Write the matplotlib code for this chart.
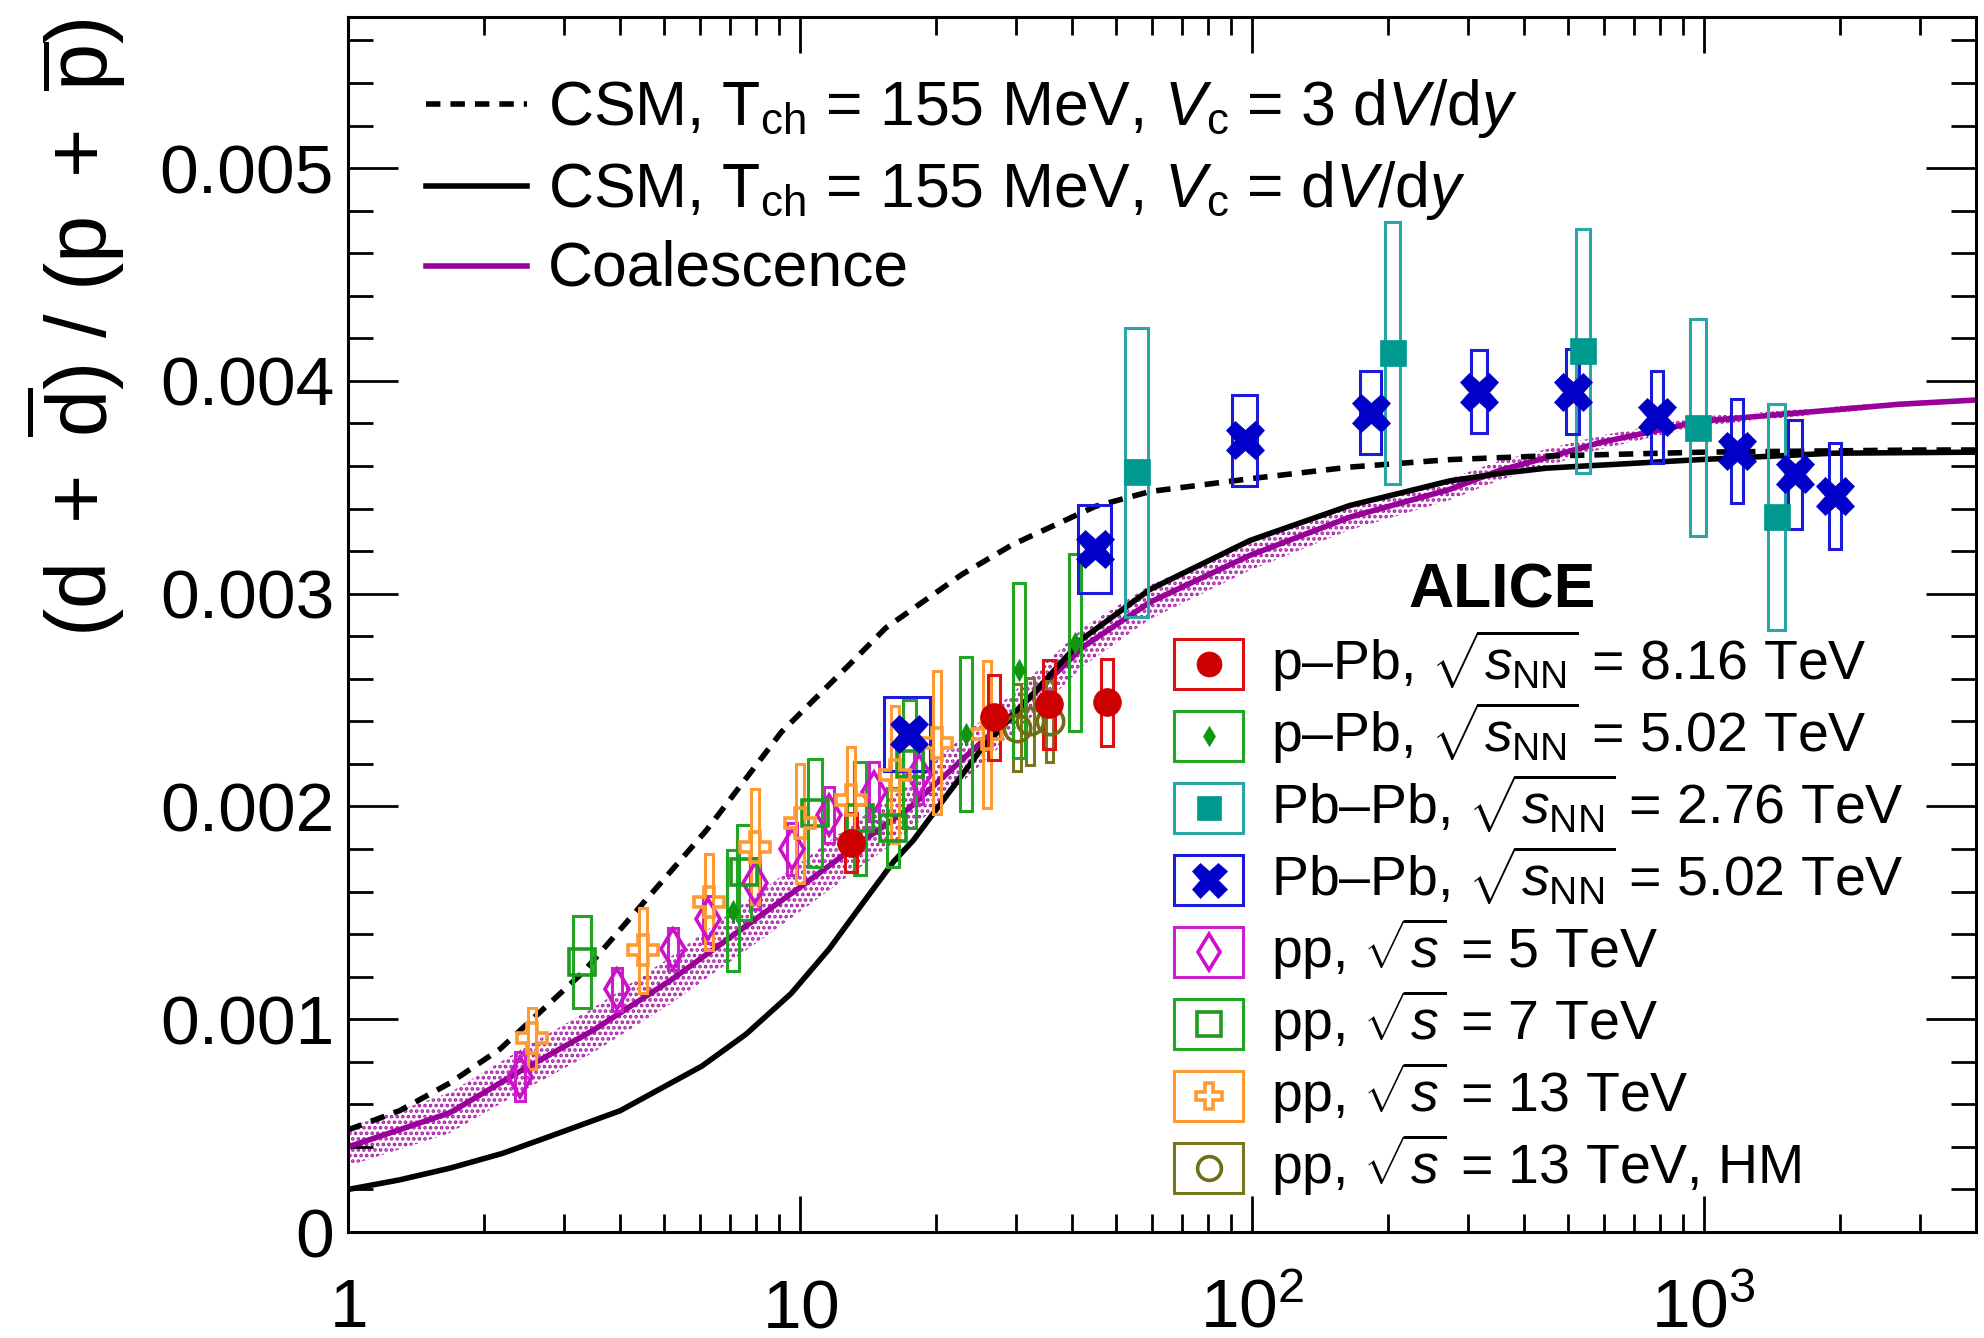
import matplotlib
matplotlib.use("Agg")
import matplotlib.pyplot as plt
from matplotlib.patches import Rectangle
from matplotlib.ticker import FixedLocator, LogLocator, MultipleLocator, NullFormatter
from matplotlib.transforms import blended_transform_factory

plt.rcParams['font.family'] = ['Liberation Sans', 'DejaVu Sans']
plt.rcParams['mathtext.fontset'] = 'custom'
plt.rcParams['mathtext.rm'] = 'Liberation Sans'
plt.rcParams['mathtext.it'] = 'Liberation Sans:italic'
plt.rcParams['mathtext.bf'] = 'Liberation Sans:bold'
plt.rcParams['mathtext.sf'] = 'Liberation Sans'
plt.rcParams['hatch.linewidth'] = 1.8
plt.rcParams['hatch.color'] = '#a41ca4'

SCALE = 1e-3  # ratios below are given in units of 10^-3

# ---- model curves ----
csm3_x = [1.0, 1.3, 1.68, 2.17, 3.31, 4.5, 6.22, 9.1, 12.7, 15.5, 22.8, 29.5, 45, 59.5,
          99, 165, 274, 418, 1000, 2960, 4000]
csm3_y = [0.48, 0.57, 0.70, 0.86, 1.22, 1.546, 1.89, 2.35, 2.655, 2.84, 3.09, 3.23, 3.41, 3.48,
          3.54, 3.595, 3.63, 3.645, 3.665, 3.675, 3.675]

csm1_x = [1.0, 1.3, 1.68, 2.2, 2.8, 4.0, 6.07, 7.6, 9.55, 11.6, 13.6, 16.1, 17.8, 25.0, 32.8,
          42.3, 59.5, 99, 165, 274, 354, 450, 980, 1930, 4000]
csm1_y = [0.20, 0.245, 0.30, 0.37, 0.45, 0.57, 0.78, 0.93, 1.12, 1.33, 1.53, 1.74, 1.84, 2.26, 2.53,
          2.79, 3.02, 3.25, 3.415, 3.53, 3.565, 3.59, 3.63, 3.66, 3.665]

coal_x = [1, 1.68, 2.4, 3.5, 5.15, 7.5, 10, 13.6, 17.4, 23.4, 27.7, 35, 42.3, 59.5, 76.7,
          99, 165, 274, 354, 450, 589, 980, 1630, 2700, 4000]
coal_y = [0.40, 0.56, 0.755, 0.95, 1.18, 1.43, 1.62, 1.83, 1.99, 2.24, 2.38, 2.58, 2.75, 2.96, 3.07,
          3.18, 3.36, 3.49, 3.58, 3.64, 3.71, 3.81, 3.85, 3.89, 3.91]
coal_err = [0.09, 0.095, 0.10, 0.105, 0.11, 0.115, 0.115, 0.115, 0.11, 0.105, 0.10, 0.095, 0.09,
            0.08, 0.075, 0.07, 0.06, 0.05, 0.045, 0.04, 0.032, 0.022, 0.016, 0.012, 0.01]

# ---- measurements: x = <dNch/deta>, y = (d+dbar)/(p+pbar), sys = syst. error,
#      xrel = relative x uncertainty ----
ppb816_x = [13.0, 26.9, 35.6, 47.8]
ppb816_y = [1.83, 2.42, 2.48, 2.49]
ppb816_sys = [0.14, 0.20, 0.21, 0.205]
ppb816_xrel = [0.03, 0.03, 0.03, 0.03]

ppb502_x = [7.11, 23.3, 30.5, 40.6]
ppb502_y = [1.51, 2.34, 2.64, 2.77]
ppb502_sys = [0.285, 0.36, 0.41, 0.415]
ppb502_xrel = [0.03, 0.03, 0.03, 0.03]

pbpb276_x = [55.6, 205, 540, 970, 1450]
pbpb276_y = [3.57, 4.13, 4.14, 3.78, 3.36]
pbpb276_sys = [0.68, 0.615, 0.575, 0.51, 0.53]
pbpb276_xrel = [0.06, 0.039, 0.036, 0.042, 0.042]

pbpb502_x = [17.4, 45, 96.5, 183, 318, 513, 787, 1183, 1589, 1950]
pbpb502_y = [2.34, 3.21, 3.72, 3.85, 3.95, 3.95, 3.83, 3.67, 3.56, 3.46]
pbpb502_sys = [0.175, 0.205, 0.215, 0.195, 0.195, 0.20, 0.215, 0.245, 0.255, 0.25]
pbpb502_xrel = [0.116, 0.082, 0.063, 0.052, 0.042, 0.034, 0.031, 0.031, 0.036, 0.031]

pp5_x = [2.40, 3.94, 5.24, 6.26, 7.95, 9.6, 11.6, 14.6, 18.3]
pp5_y = [0.73, 1.14, 1.33, 1.47, 1.64, 1.80, 1.96, 2.07, 2.15]
pp5_sys = [0.115, 0.10, 0.10, 0.11, 0.12, 0.12, 0.13, 0.14, 0.14]
pp5_xrel = [0.025] * 9

pp7_x = [3.30, 7.52, 10.8, 13.6, 16.1, 17.5]
pp7_y = [1.27, 1.69, 1.97, 1.945, 1.90, 2.20]
pp7_sys = [0.215, 0.225, 0.255, 0.265, 0.185, 0.30]
pp7_xrel = [0.047, 0.034, 0.034, 0.031, 0.031, 0.034]

pp13_x = [2.55, 4.50, 6.29, 7.95, 10.0, 12.97, 16.2, 20.1, 25.9]
pp13_y = [0.91, 1.325, 1.55, 1.81, 1.92, 2.03, 2.15, 2.30, 2.34]
pp13_sys = [0.145, 0.20, 0.225, 0.27, 0.28, 0.25, 0.32, 0.335, 0.345]
pp13_xrel = [0.02] * 9

pp13hm_x = [30.2, 32.3, 35.7]
pp13hm_y = [2.37, 2.40, 2.40]
pp13hm_sys = [0.205, 0.205, 0.19]
pp13hm_xrel = [0.019] * 3

series = {
    'ppb816': dict(x=ppb816_x, y=ppb816_y, sys=ppb816_sys, xrel=ppb816_xrel,
                   label=r"p–Pb, $\sqrt{s_{\mathrm{NN}}}$ = 8.16 TeV",
                   color='#cc0000', box='#dd1111', marker='o', ms=20, open=False),
    'ppb502': dict(x=ppb502_x, y=ppb502_y, sys=ppb502_sys, xrel=ppb502_xrel,
                   label=r"p–Pb, $\sqrt{s_{\mathrm{NN}}}$ = 5.02 TeV",
                   color='#0f960f', box='#22a522', marker='d', ms=11, open=False),
    'pbpb276': dict(x=pbpb276_x, y=pbpb276_y, sys=pbpb276_sys, xrel=pbpb276_xrel,
                    label=r"Pb–Pb, $\sqrt{s_{\mathrm{NN}}}$ = 2.76 TeV",
                    color='#009990', box='#2aa6a6', marker='s', ms=19, open=False),
    'pbpb502': dict(x=pbpb502_x, y=pbpb502_y, sys=pbpb502_sys, xrel=pbpb502_xrel,
                    label=r"Pb–Pb, $\sqrt{s_{\mathrm{NN}}}$ = 5.02 TeV",
                    color='#0000c8', box='#1a1ad8', marker='X', ms=28, open=False),
    'pp5': dict(x=pp5_x, y=pp5_y, sys=pp5_sys, xrel=pp5_xrel,
                label=r"pp, $\sqrt{s}$ = 5 TeV",
                color='#cc10cc', box='#cc20cc', marker='d', ms=20, open=True),
    'pp7': dict(x=pp7_x, y=pp7_y, sys=pp7_sys, xrel=pp7_xrel,
                label=r"pp, $\sqrt{s}$ = 7 TeV",
                color='#1e9a1e', box='#22a522', marker='s', ms=19, open=True),
    'pp13': dict(x=pp13_x, y=pp13_y, sys=pp13_sys, xrel=pp13_xrel,
                 label=r"pp, $\sqrt{s}$ = 13 TeV",
                 color='#ff9a33', box='#ff9a33', marker='P', ms=21, open=True),
    'pp13hm': dict(x=pp13hm_x, y=pp13hm_y, sys=pp13hm_sys, xrel=pp13hm_xrel,
                   label=r"pp, $\sqrt{s}$ = 13 TeV, HM",
                   color='#6e6e14', box='#77771e', marker='o', ms=19, open=True),
}
draw_order = ['pp5', 'pp7', 'pp13', 'pp13hm', 'ppb502', 'ppb816', 'pbpb276', 'pbpb502']
legend_order = ['ppb816', 'ppb502', 'pbpb276', 'pbpb502', 'pp5', 'pp7', 'pp13', 'pp13hm']

fig = plt.figure(figsize=(19.84, 13.38), dpi=100)
ax = fig.add_axes([0.1754, 0.0792, 0.9960 - 0.1754, 0.9873 - 0.0792])
ax.set_xscale('log')
ax.set_xlim(1, 4000)
ax.set_ylim(0, 0.00571)

# models
cy = [v * SCALE for v in coal_y]
lo = [(v - e) * SCALE for v, e in zip(coal_y, coal_err)]
hi = [(v + e) * SCALE for v, e in zip(coal_y, coal_err)]
ax.fill_between(coal_x, lo, hi, facecolor='none', edgecolor='#a41ca4', hatch='...',
                linewidth=0, zorder=1.5)
ax.plot(coal_x, cy, color='#990099', lw=4, zorder=2)
ax.plot(csm1_x, [v * SCALE for v in csm1_y], color='black', lw=4, zorder=2)
ax.plot(csm3_x, [v * SCALE for v in csm3_y], color='black', lw=4,
        linestyle=(0, (2.6, 1.8)), zorder=2)


def marker_kw(s, scale=1.0):
    kw = dict(marker=s['marker'], markersize=s['ms'] * scale, linestyle='none')
    if s['open']:
        kw.update(markerfacecolor='none', markeredgecolor=s['color'], markeredgewidth=2.6)
    else:
        kw.update(markerfacecolor=s['color'], markeredgecolor=s['color'], markeredgewidth=0.5)
    return kw


for key in draw_order:
    s = series[key]
    for x, y, e, r in zip(s['x'], s['y'], s['sys'], s['xrel']):
        x0, x1 = x * (1 - r), x * (1 + r)
        ax.add_patch(Rectangle((x0, (y - e) * SCALE), x1 - x0, 2 * e * SCALE,
                               fill=False, edgecolor=s['box'], lw=2.2, zorder=3))
    ax.plot(s['x'], [v * SCALE for v in s['y']], zorder=4, **marker_kw(s))

# axes styling
for sp in ax.spines.values():
    sp.set_linewidth(2.2)
ax.yaxis.set_major_locator(FixedLocator([0, 0.001, 0.002, 0.003, 0.004, 0.005]))
ax.yaxis.set_minor_locator(MultipleLocator(0.0002))
ax.set_yticklabels(['0', '0.001', '0.002', '0.003', '0.004', '0.005'])
ax.xaxis.set_major_locator(FixedLocator([1, 10, 100, 1000]))
ax.xaxis.set_minor_locator(LogLocator(base=10, subs=[2, 3, 4, 5, 6, 7, 8, 9], numticks=20))
ax.xaxis.set_major_formatter(NullFormatter())
ax.xaxis.set_minor_formatter(NullFormatter())
ax.tick_params(axis='y', which='major', direction='in', length=36, width=2,
               left=True, right=True, labelsize=50, pad=10)
ax.tick_params(axis='y', which='minor', direction='in', length=18, width=2,
               left=True, right=True)
ax.tick_params(axis='x', which='major', direction='in', length=26, width=2,
               bottom=True, top=True)
ax.tick_params(axis='x', which='minor', direction='in', length=13, width=2,
               bottom=True, top=True)

xtick_vals = [1, 10, 100, 1000]
xtick_text = [r'$1$', r'$10$', r'$10^{2}$', r'$10^{3}$']
btf = blended_transform_factory(ax.transData, ax.transAxes)
for v, t in zip(xtick_vals, xtick_text):
    ax.text(v, -0.0785, t, transform=btf, ha='center', va='baseline', fontsize=50)

fig.text(0.038, 0.986,
         r'$(\mathrm{d}\ +\ \overline{\mathrm{d}})\ /\ (\mathrm{p}\ +\ \overline{\mathrm{p}})$',
         rotation=90, ha='center', va='top', fontsize=61)

# model legend
model_keys = [
    (dict(color='black', lw=4, linestyle=(0, (2.6, 1.8))),
     r"CSM, T$_{\mathrm{ch}}$ = 155 MeV, $V_{\mathrm{c}}$ = 3 d$V$/d$y$", 0.9284, 0.9111),
    (dict(color='black', lw=4),
     r"CSM, T$_{\mathrm{ch}}$ = 155 MeV, $V_{\mathrm{c}}$ = d$V$/d$y$", 0.8609, 0.8436),
    (dict(color='#990099', lw=4), "Coalescence", 0.7951, 0.7794),
]
for kw, text, yl, yt in model_keys:
    ax.plot([0.0479, 0.1099], [yl, yl], transform=ax.transAxes, clip_on=False, **kw)
    ax.text(0.1229, yt, text, transform=ax.transAxes, fontsize=45, va='baseline', ha='left')

# data legend
ax.text(0.7088, 0.5136, 'ALICE', transform=ax.transAxes, fontsize=45, fontweight='bold',
        ha='center', va='baseline')
bx0, bw, bh = 0.5074, 0.0424, 0.0412
row0, drow = 0.4675, 0.05926
for i, key in enumerate(legend_order):
    s = series[key]
    yc = row0 - i * drow
    ax.add_patch(Rectangle((bx0, yc - bh / 2), bw, bh, transform=ax.transAxes, fill=False,
                           edgecolor=s['box'], lw=2.2, zorder=5))
    ax.plot([bx0 + bw / 2], [yc], transform=ax.transAxes, zorder=6, **marker_kw(s, 0.9))
    ax.text(0.567, yc - 0.0132, s['label'], transform=ax.transAxes, fontsize=40,
            va='baseline', ha='left')

fig.savefig('out.png', dpi=100)
